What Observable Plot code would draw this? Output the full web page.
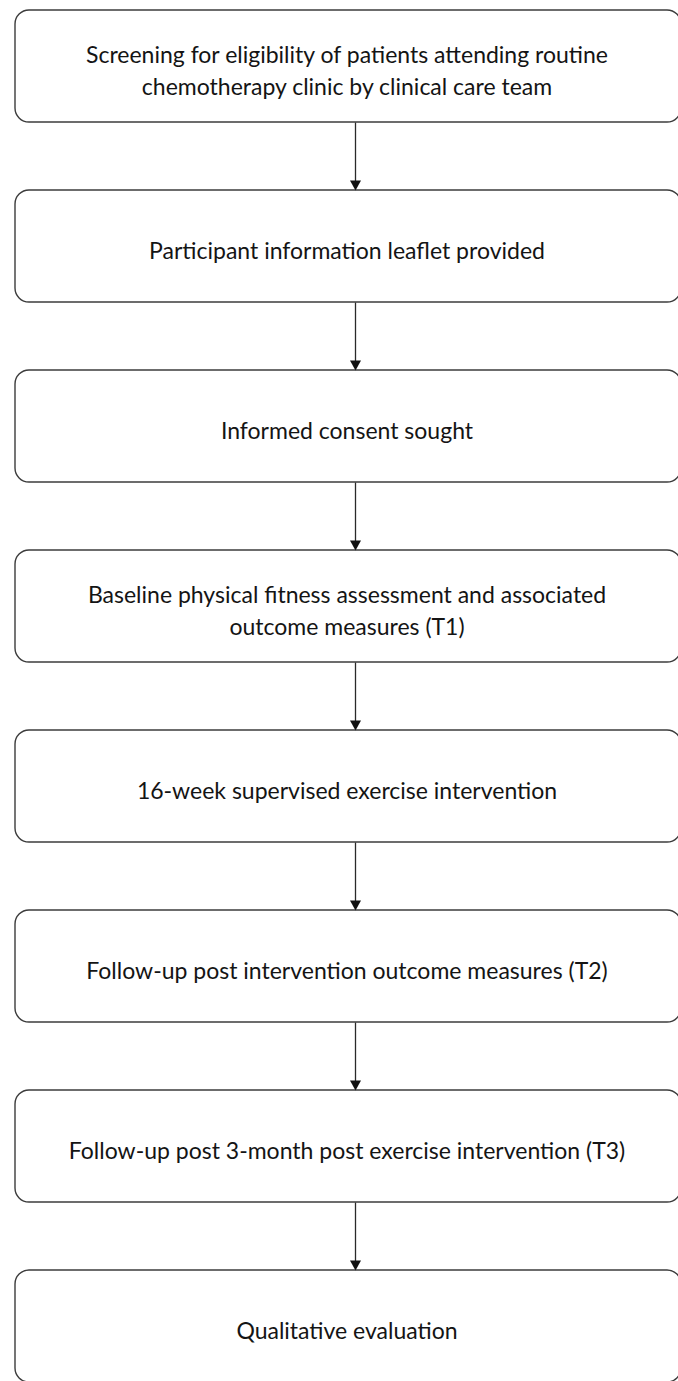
<!DOCTYPE html>
<html>
<head>
<meta charset="utf-8">
<script src="https://cdn.jsdelivr.net/npm/d3@7"></script>
<script src="https://cdn.jsdelivr.net/npm/@observablehq/plot@0.6"></script>
<style>
  html, body { margin: 0; padding: 0; background: #fff; overflow: hidden; }
  #chart svg { display: block; }
</style>
</head>
<body>
<div id="chart"></div>
<script>
// ---- data ----
const steps = [
  "Screening for eligibility of patients attending routine\nchemotherapy clinic by clinical care team",
  "Participant information leaflet provided",
  "Informed consent sought",
  "Baseline physical fitness assessment and associated\noutcome measures (T1)",
  "16-week supervised exercise intervention",
  "Follow-up post intervention outcome measures (T2)",
  "Follow-up post 3-month post exercise intervention (T3)",
  "Qualitative evaluation"
];

// ---- layout ----
const W = 678, H = 1381;
const firstTop = 10, pitch = 180, boxH = 112;
const boxLeft = 15, boxRight = 681, arrowX = 355;

const boxes = steps.map((label, i) => ({
  label,
  top: firstTop + i * pitch,
  bottom: firstTop + i * pitch + boxH
}));
const links = boxes.slice(1).map((b, i) => ({from: boxes[i].bottom, to: b.top}));

const headW = 11, headH = 10;
const downTriangle = {
  draw(context) {
    context.moveTo(-headW / 2, -headH);
    context.lineTo(headW / 2, -headH);
    context.lineTo(0, 0);
    context.closePath();
  }
};

const chart = Plot.plot({
  width: W,
  height: H,
  margin: 0,
  x: {domain: [0, W], range: [0, W], axis: null},
  y: {domain: [0, H], range: [0, H], axis: null},
  marks: [
    Plot.rect(boxes, {
      x1: boxLeft, x2: boxRight, y1: "top", y2: "bottom",
      rx: 14, fill: "white", stroke: "#3c3c3c", strokeWidth: 1.4
    }),
    Plot.link(links, {
      x1: arrowX, x2: arrowX, y1: "from", y2: d => d.to - headH + 1,
      stroke: "#2a2a2a", strokeWidth: 1.3
    }),
    Plot.dot(links, {
      x: arrowX, y: "to", symbol: downTriangle, fill: "#111", stroke: "none"
    }),
    Plot.text(boxes, {
      x: (boxLeft + W) / 2, y: d => (d.top + d.bottom) / 2, text: "label",
      dy: 2, fontSize: 23, lineHeight: 1.38, fill: "#141414",
      fontFamily: "Lato, 'Open Sans', sans-serif", textAnchor: "middle"
    })
  ]
});
document.getElementById("chart").appendChild(chart);
</script>
</body>
</html>
